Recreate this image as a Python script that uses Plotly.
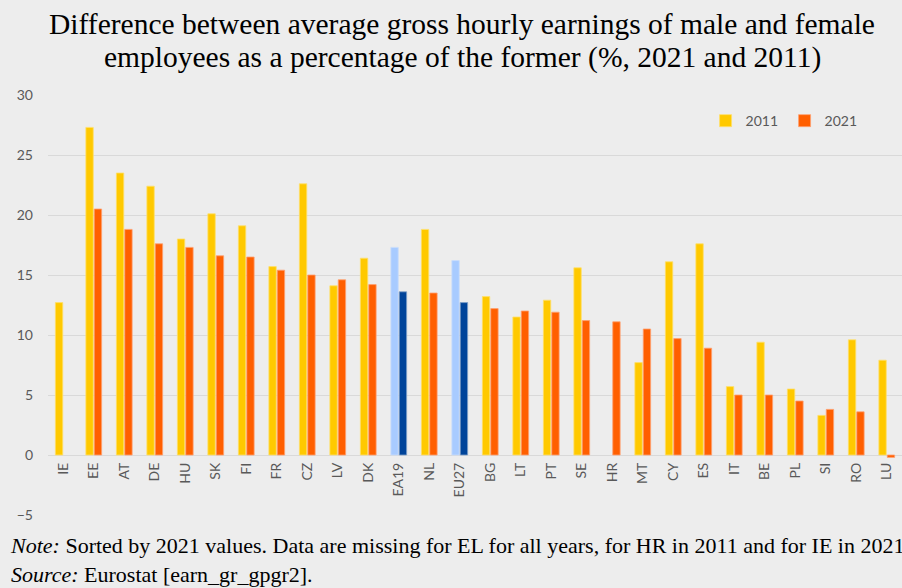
import plotly.graph_objects as go

categories = ["IE", "EE", "AT", "DE", "HU", "SK", "FI", "FR", "CZ", "LV", "DK", "EA19", "NL", "EU27",
              "BG", "LT", "PT", "SE", "HR", "MT", "CY", "ES", "IT", "BE", "PL", "SI", "RO", "LU"]
values_2011 = [12.7, 27.3, 23.5, 22.4, 18.0, 20.1, 19.1, 15.7, 22.6, 14.1, 16.4, 17.3, 18.8, 16.2,
               13.2, 11.5, 12.9, 15.6, None, 7.7, 16.1, 17.6, 5.7, 9.4, 5.5, 3.3, 9.6, 7.9]
values_2021 = [None, 20.5, 18.8, 17.6, 17.3, 16.6, 16.5, 15.4, 15.0, 14.6, 14.2, 13.6, 13.5, 12.7,
               12.2, 12.0, 11.9, 11.2, 11.1, 10.5, 9.7, 8.9, 5.0, 5.0, 4.5, 3.8, 3.6, -0.2]
aggregates = ["EA19", "EU27"]

title_line1 = "Difference between average gross hourly earnings of male and female"
title_line2 = "employees as a percentage of the former (%, 2021 and 2011)"

c2011, c2021 = "#FFC900", "#FF5F00"
a2011, a2021 = "#A8CBFF", "#00449A"
cols_2011 = [a2011 if c in aggregates else c2011 for c in categories]
cols_2021 = [a2021 if c in aggregates else c2021 for c in categories]
line_2011 = ["#C9DDFB" if c in aggregates else "#FFE06A" for c in categories]
line_2021 = ["#7F9FC8" if c in aggregates else "#FFA070" for c in categories]

fig = go.Figure()
fig.add_trace(go.Bar(name="2011", x=categories, y=values_2011,
                     marker=dict(color=cols_2011, line=dict(color=line_2011, width=0.8))))
fig.add_trace(go.Bar(name="2021", x=categories, y=values_2021,
                     marker=dict(color=cols_2021, line=dict(color=line_2021, width=0.8))))

tick_font = dict(family="Lato", size=14, color="#595959")
title_font = dict(family="Liberation Serif", size=29.5, color="#000000")

fig.update_layout(
    width=902, height=588,
    paper_bgcolor="#EDEDED", plot_bgcolor="#EDEDED",
    margin=dict(l=48, r=0, t=95, b=73),
    barmode="group", bargap=0.45, bargroupgap=0.12,
    title=dict(text=title_line1,
               x=462 / 902, xanchor="center", yref="container", y=1 - 24 / 588, yanchor="middle",
               font=title_font),
    xaxis=dict(anchor="free", position=1 / 7, tickangle=-90, tickfont=tick_font,
               showgrid=False, showline=False, ticks="", ticklabelstandoff=4),
    yaxis=dict(range=[-5, 30], dtick=5, tickfont=tick_font, gridcolor="#D9D9D9",
               gridwidth=1, zeroline=True, zerolinecolor="#D9D9D9", zerolinewidth=1,
               ticks="", ticklabelstandoff=14),
    legend=dict(orientation="h", x=0.770, xanchor="left", y=0.938, yanchor="middle",
                font=tick_font, bgcolor="rgba(0,0,0,0)", itemwidth=30,
                entrywidth=34, entrywidthmode="pixels"),
    showlegend=True,
)

fig.add_annotation(xref="paper", yref="paper", x=(462 - 48) / 854, y=(515 - 57) / 420,
                   xanchor="center", yanchor="middle", showarrow=False,
                   text=title_line2, font=title_font)

fig.add_annotation(xref="paper", yref="paper", x=-48 / 854, y=-73 / 420,
                   xanchor="left", yanchor="bottom", showarrow=False, align="left",
                   text="<i>Note:</i> Sorted by 2021 values. Data are missing for EL for all years, "
                        "for HR in 2011 and for IE in 2021.<br><i>Source:</i> Eurostat [earn_gr_gpgr2].",
                   font=dict(family="Liberation Serif", size=22, color="#000000"),
                   xshift=8, yshift=-1)

fig.write_html("out.html", config={"displayModeBar": False},
               post_script="document.body.style.margin='0';")
